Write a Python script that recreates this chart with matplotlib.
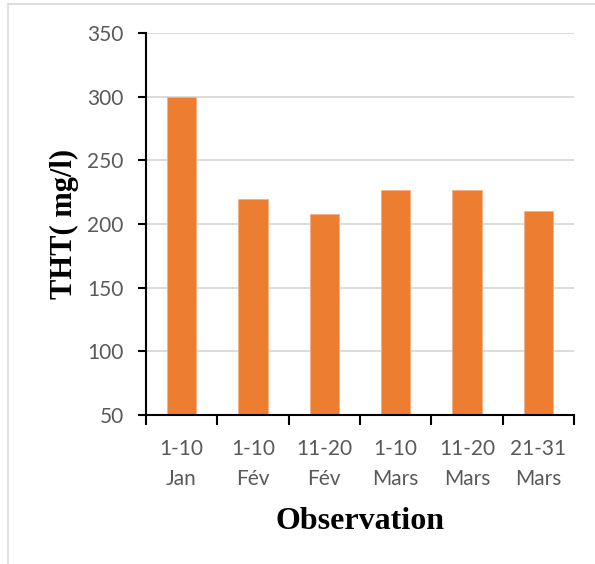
import matplotlib
matplotlib.use("Agg")
import matplotlib.pyplot as plt
from matplotlib.patches import Rectangle
import numpy as np

categories = ["1-10\nJan", "1-10\nFév", "11-20\nFév", "1-10\nMars", "11-20\nMars", "21-31\nMars"]
values = [300, 219.5, 208, 227, 226.5, 210]
yticks = [50, 100, 150, 200, 250, 300, 350]

W, H = 595, 564
fig = plt.figure(figsize=(W / 100, H / 100), dpi=100)
fig.patch.set_facecolor("white")
fig.patches.append(Rectangle((8 / W, -0.01), 1.1, 1 - 4 / H + 0.01, transform=fig.transFigure,
                             fill=False, edgecolor="#d9d9d9", linewidth=1.2))

ax = fig.add_axes([146 / W, 1 - 415 / H, (574 - 146) / W, (415 - 33) / H])
x = np.arange(len(categories))
ax.bar(x, values, width=0.41, color="#ED7D31", edgecolor="#F4B183", linewidth=0.6, zorder=3)

ax.set_xlim(-0.5, len(categories) - 0.5)
ax.set_ylim(50, 350)
ax.set_yticks(yticks)
ax.set_yticklabels([str(t) for t in yticks], fontsize=15, color="#595959", fontfamily="Lato")
ax.set_xticks(x)
ax.set_xticklabels(categories, fontsize=15, color="#595959", fontfamily="Lato", linespacing=1.65)
ax.set_xticks(np.arange(-0.5, len(categories)), minor=True)
ax.tick_params(axis="x", which="major", length=0, pad=17)
ax.tick_params(axis="x", which="minor", length=7, width=1.5, color="black")
ax.tick_params(axis="y", length=6, width=1.5, color="black", pad=10)

ax.grid(axis="y", color="#d9d9d9", linewidth=1.3, zorder=0)
for s in ["top", "right"]:
    ax.spines[s].set_visible(False)
for s in ["left", "bottom"]:
    ax.spines[s].set_linewidth(1.5)
    ax.spines[s].set_color("black")
ax.spines["bottom"].set_zorder(4)

ax.set_ylabel("THT( mg/l)", fontsize=22, fontweight="bold", fontfamily="Liberation Serif", labelpad=6)
ax.set_xlabel("Observation", fontsize=23, fontweight="bold", fontfamily="Liberation Serif", labelpad=13)

fig.savefig("out.png", dpi=100, facecolor="white")
